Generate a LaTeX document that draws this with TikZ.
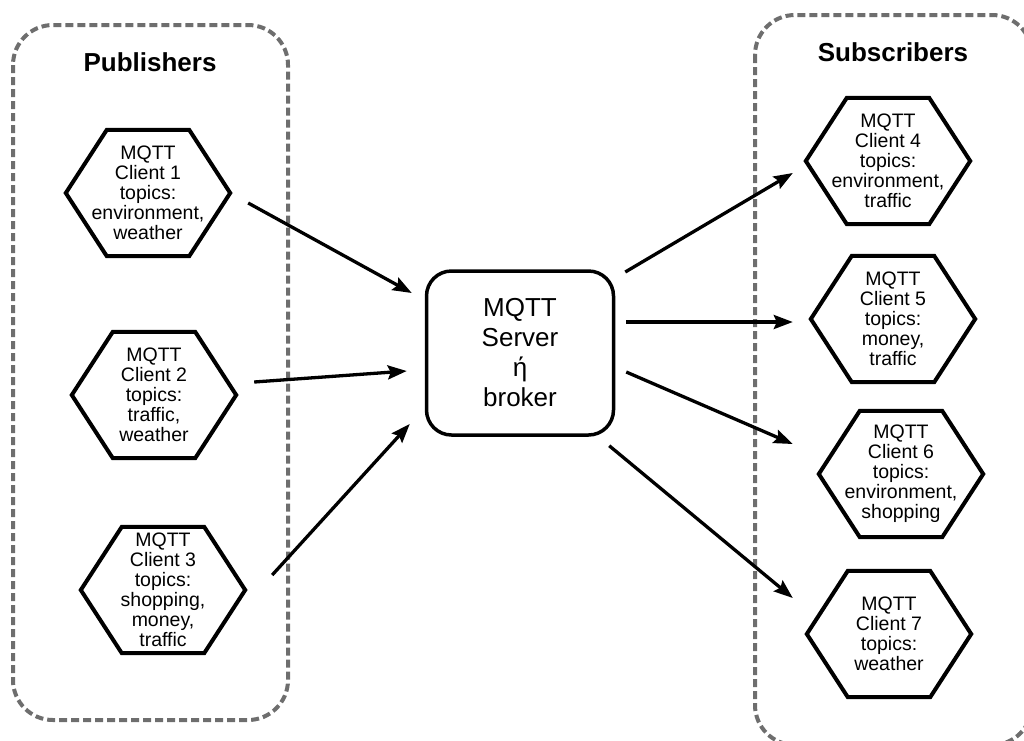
\documentclass[tikz,border=0pt]{standalone}
\usepackage{fontspec}
\setmainfont{Liberation Sans}
\usetikzlibrary{arrows.meta, calc}
\definecolor{boxgray}{RGB}{110, 110, 110}

\begin{document}
\begin{tikzpicture}[x=1pt, y=-1pt,
  client/.style={minimum width=164pt, minimum height=126pt, inner sep=0pt,
    align=center, font=\fontsize{19.5}{20}\selectfont},
  hexline/.style={line width=4pt},
  group/.style={draw=boxgray, line width=4pt, dash pattern=on 8pt off 4pt,
    rounded corners=40pt},
  arr/.style={line width=3.3pt, -{Stealth[length=19pt, width=14pt, inset=3pt]}},
  title/.style={font=\fontsize{26}{30}\selectfont\bfseries}]
  \useasboundingbox (0, 0) rectangle (1024, 740);

  % the two groups
  \draw [group] (13, 25) rectangle (288, 720);
  \draw [group] (755, 15) rectangle (1032, 745);
  \node [title] (pub) at (150, 62) {Publishers};
  \node [title] (sub) at (893, 52) {Subscribers};

  % broker
  \node [draw, line width=3.5pt, rounded corners=25pt, minimum width=187pt,
    minimum height=164pt, align=center, font=\fontsize{26}{30}\selectfont]
    (server) at (520, 353) {MQTT\\Server\\ή\\broker};

  % publishers
  \node [client] (c1) at (148, 193) {MQTT\\Client 1\\topics:\\environment,\\weather};
  \node [client] (c2) at (154, 395) {MQTT\\Client 2\\topics:\\traffic,\\weather};
  \node [client] (c3) at (163, 590) {MQTT\\Client 3\\topics:\\shopping,\\money,\\traffic};

  % subscribers
  \node [client] (c4) at (888, 161) {MQTT\\Client 4\\topics:\\environment,\\traffic};
  \node [client] (c5) at (893, 319) {MQTT\\Client 5\\topics:\\money,\\traffic};
  \node [client] (c6) at (901, 474) {MQTT\\Client 6\\topics:\\environment,\\shopping};
  \node [client] (c7) at (889, 634) {MQTT\\Client 7\\topics:\\weather};

  % hexagon outlines
  \foreach \c in {c1, c2, c3, c4, c5, c6, c7}
    \draw [hexline] (\c.west) -- ($(\c.north west)+(41, 0)$)
      -- ($(\c.north east)+(-41, 0)$) -- (\c.east)
      -- ($(\c.south east)+(-41, 0)$) -- ($(\c.south west)+(41, 0)$) -- cycle;

  \draw [arr] ($(c1.east)+(18, 10)$) -- ($(server.west)+(-13, -60)$);
  \draw [arr] ($(c2.east)+(18, -13)$) -- ($(server.west)+(-18, 18)$);
  \draw [arr] ($(c3.east)+(27, -15)$) -- ($(server.west)+(-15, 71)$);

  \draw [arr] ($(server.east)+(10, -81)$) -- ($(c4.west)+(-13, 12)$);
  \draw [arr] ($(server.east)+(11, -31)$) -- ($(c5.west)+(-18, 3)$);
  \draw [arr] ($(server.east)+(11, 19)$) -- ($(c6.west)+(-26, -30)$);
  \draw [arr] ($(server.south east)+(-6, 9)$) -- ($(c7.west)+(-14, -36)$);
\end{tikzpicture}
\end{document}
